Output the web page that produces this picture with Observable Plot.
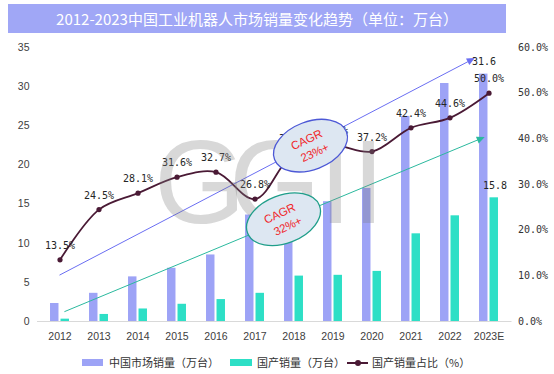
<!DOCTYPE html>
<html><head><meta charset="utf-8">
<script src="https://cdn.jsdelivr.net/npm/d3@7"></script>
<script src="https://cdn.jsdelivr.net/npm/@observablehq/plot@0.6"></script>
<style>
body{margin:0;background:#fff;}
#wrap{position:relative;width:554px;height:374px;overflow:hidden;font-family:"Noto Sans CJK SC",sans-serif;}
#title{position:absolute;left:8px;top:4px;width:498px;height:29px;background:#a0a7f6;color:#fff;font-size:15px;line-height:29px;text-align:center;white-space:nowrap;}
#chart{position:absolute;left:0;top:33px;}
.lg{position:absolute;top:353px;height:18px;line-height:18px;font-size:11px;color:#333;white-space:nowrap;}
.sw{position:absolute;top:359px;height:7px;}
</style></head>
<body>
<div id="wrap">
  <div id="title">2012-2023中国工业机器人市场销量变化趋势（单位：万台）</div>
  <div id="chart"></div>
  <div class="sw" style="left:82px;width:21px;background:#9da3f6"></div>
  <div class="lg" style="left:109px">中国市场销量（万台）</div>
  <div class="sw" style="left:230px;width:22px;background:#2ddfc6"></div>
  <div class="lg" style="left:257px">国产销量（万台）</div>
  <div style="position:absolute;left:347px;top:361.5px;width:21px;height:2px;background:#4a1a35"></div>
  <div style="position:absolute;left:354.5px;top:359.5px;width:6px;height:6px;border-radius:3px;background:#4a1a35"></div>
  <div class="lg" style="left:372px">国产销量占比（%）</div>
</div>
<script>
const years = ["2012","2013","2014","2015","2016","2017","2018","2019","2020","2021","2022","2023E"];
const marketSales = [2.3, 3.6, 5.7, 6.8, 8.5, 13.6, 15.6, 15.3, 17.0, 26.2, 30.4, 31.6];
const domesticSales = [0.3, 0.9, 1.6, 2.2, 2.8, 3.6, 5.8, 5.9, 6.4, 11.2, 13.5, 15.8];
const domesticShare = [13.5, 24.5, 28.1, 31.6, 32.7, 26.8, 36.9, 38.6, 37.2, 42.4, 44.6, 50.0];
const leftTicks = [0, 5, 10, 15, 20, 25, 30, 35];
const rightTicks = [0, 10, 20, 30, 40, 50, 60];
const trends = [
  {from: "2012", v1: 5.86, to: "2023E", v2: 34.5, color: "#6a6ef2", insetStart: 0, insetEnd: 15.5},
  {from: "2012", v1: 0.93, to: "2023E", v2: 23.7, color: "#2bb99e", insetStart: 5.3, insetEnd: 4.1}
];
const cagrNotes = [
  {line1: "CAGR", line2: "23%+", x: "2018", shift: 17, v: 22.4, stroke: "#4c58d6"},
  {line1: "CAGR", line2: "32%+", x: "2018", shift: -10, v: 13.0, stroke: "#1f9e8a"}
];

const leftMax = 35, rightMax = 60;
const toLeft = p => p * leftMax / rightMax;
const data = years.map((year, i) => ({year, market: marketSales[i], domestic: domesticSales[i], share: domesticShare[i]}));
const last = [data[data.length - 1]];
const mono = "DejaVu Sans Mono, monospace";

const W = 554, H = 317, ML = 37, MR = 42.5, MT = 14, MB = 29;
const bandW = (W - ML - MR) / years.length;
const half = bandW / 2;

function findScales(args) {
  return args.find(a => a && typeof a === "object" && typeof a.x === "function" && typeof a.y === "function");
}
function bandOf(sx) {
  return typeof sx.bandwidth === "function" ? sx.bandwidth() : (sx.bandwidth || 0);
}

function trendLines(...args) {
  const sc = findScales(args);
  const sx = sc.x, sy = sc.y, bw = bandOf(sx);
  const g = d3.create("svg:g");
  for (const t of trends) {
    const x1 = sx(t.from) + bw / 2, y1 = sy(t.v1);
    const x2 = sx(t.to) + bw / 2, y2 = sy(t.v2);
    const L = Math.hypot(x2 - x1, y2 - y1);
    const ux = (x2 - x1) / L, uy = (y2 - y1) / L;
    const sxp = x1 + ux * t.insetStart, syp = y1 + uy * t.insetStart;
    const tx = x2 - ux * t.insetEnd, ty = y2 - uy * t.insetEnd;
    const hl = 8, hw = 3.6;
    const bx = tx - ux * hl, by = ty - uy * hl;
    g.append("line").attr("x1", sxp).attr("y1", syp).attr("x2", bx + ux * 1).attr("y2", by + uy * 1)
      .attr("stroke", t.color).attr("stroke-width", 1);
    g.append("path")
      .attr("d", `M${tx},${ty}L${bx - uy * hw},${by + ux * hw}L${bx + uy * hw},${by - ux * hw}Z`)
      .attr("fill", t.color);
  }
  return g.node();
}

function watermark() {
  const g = d3.create("svg:g");
  g.append("text")
    .attr("x", "154 229 319 352").attr("y", MT + 176)
    .attr("text-anchor", "start")
    .attr("font-family", "Liberation Sans, Arial, sans-serif")
    .attr("font-size", 118)
    .attr("fill", "#7f7f7f").attr("fill-opacity", 0.3)
    .text("GGII");
  return g.node();
}

function cagrBubbles(...args) {
  const sc = findScales(args);
  const sx = sc.x, sy = sc.y, bw = bandOf(sx);
  const g = d3.create("svg:g");
  for (const n of cagrNotes) {
    const cx = sx(n.x) + bw / 2 + n.shift;
    const cy = sy(n.v);
    const e = g.append("g").attr("transform", `translate(${cx},${cy}) rotate(-21)`);
    e.append("ellipse").attr("rx", 38.5).attr("ry", 24)
      .attr("fill", "#dde7f2").attr("stroke", n.stroke).attr("stroke-width", 1.3);
    const t = e.append("g").attr("transform", "rotate(-4)")
      .attr("fill", "#f0262a").attr("font-family", "Liberation Sans, Arial, sans-serif")
      .attr("font-size", 11.5).attr("text-anchor", "middle");
    t.append("text").attr("x", -1).attr("y", -3).text(n.line1);
    t.append("text").attr("x", 1).attr("y", 12).text(n.line2);
  }
  return g.node();
}

const chart = Plot.plot({
  width: W, height: H,
  marginLeft: ML, marginRight: MR, marginTop: MT, marginBottom: MB,
  style: {fontFamily: "Liberation Sans, Arial, sans-serif", fontSize: "10.5px", color: "#404040", background: "transparent", overflow: "visible"},
  x: {type: "band", domain: years, padding: 0, tickSize: 0, tickPadding: 11, label: null},
  y: {domain: [0, leftMax], axis: null},
  marks: [
    Plot.ruleY([0], {stroke: "#d9d9d9", strokeWidth: 1}),
    Plot.barY(data, {x: "year", y: "market", fill: "#9da3f6", insetLeft: half - 9.75, insetRight: half + 0.75}),
    Plot.barY(data, {x: "year", y: "domestic", fill: "#2ddfc6", insetLeft: half + 0.75, insetRight: half - 9.75}),
    Plot.text(leftTicks, {y: d => d, frameAnchor: "left", textAnchor: "end", dx: -8, text: d => String(d), fill: "#404040", fontSize: 10.5}),
    Plot.text(rightTicks, {y: d => toLeft(d), frameAnchor: "right", textAnchor: "start", dx: 6, text: d => d.toFixed(1) + "%", fill: "#333", fontFamily: mono, fontSize: 10}),
    trendLines,
    Plot.line(data, {x: "year", y: d => toLeft(d.share), curve: "catmull-rom", stroke: "#4a1a35", strokeWidth: 1.8}),
    Plot.dot(data, {x: "year", y: d => toLeft(d.share), r: 2.6, fill: "#4a1a35"}),
    Plot.text(data, {x: "year", y: d => toLeft(d.share), dy: -14, text: d => d.share.toFixed(1) + "%", fontFamily: mono, fontSize: 10, fill: "#262626"}),
    Plot.text(last, {x: "year", y: "market", dx: -5, dy: -12, text: d => d.market.toFixed(1), fontFamily: mono, fontSize: 10, fill: "#262626"}),
    Plot.text(last, {x: "year", y: "domestic", dx: 6, dy: -12, text: d => d.domestic.toFixed(1), fontFamily: mono, fontSize: 10, fill: "#262626"}),
    watermark,
    cagrBubbles
  ]
});
document.getElementById("chart").appendChild(chart);
</script>
</body></html>
